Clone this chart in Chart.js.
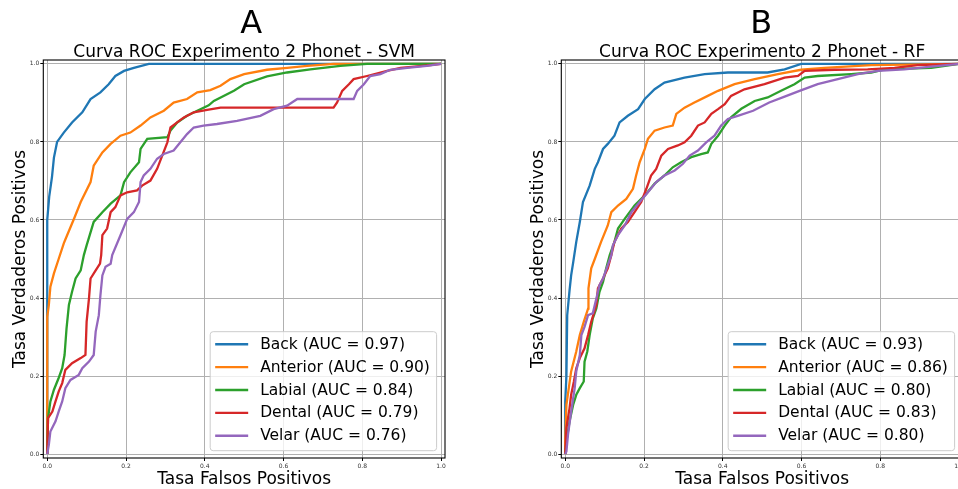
<!DOCTYPE html>
<html>
<head>
<meta charset="utf-8">
<script src="https://cdn.jsdelivr.net/npm/chart.js@4.4.1/dist/chart.umd.min.js"></script>
<style>
  html, body { margin: 0; padding: 0; background: #fff; overflow: hidden; }
  body { width: 958px; height: 489px; position: relative; }
  canvas { position: absolute; top: 0; }
  #rocSvm { left: 0; }
  #rocRf { left: 518px; }
</style>
</head>
<body>
<canvas id="rocSvm" width="480" height="489"></canvas>
<canvas id="rocRf" width="480" height="489"></canvas>
<script>
// class names, colours and AUC values
const classNames = ["Back", "Anterior", "Labial", "Dental", "Velar"];
const classColors = ["#1f77b4", "#ff7f0e", "#2ca02c", "#d62728", "#9467bd"];
const svmAuc = [0.97, 0.90, 0.84, 0.79, 0.76];
const rfAuc = [0.93, 0.86, 0.80, 0.83, 0.80];
const tickValues = [0, 0.2, 0.4, 0.6, 0.8, 1.0];

// SVM curves (false positive rate / true positive rate)
const svmBackFpr = [0, 0, 0.005, 0.012, 0.017, 0.025, 0.042, 0.063, 0.089, 0.11, 0.135, 0.156, 0.173, 0.195, 0.22, 0.258, 1.0];
const svmBackTpr = [0, 0.6, 0.66, 0.71, 0.76, 0.8, 0.824, 0.85, 0.876, 0.91, 0.927, 0.948, 0.969, 0.982, 0.99, 1.0, 1.0];
const svmAnteriorFpr = [0, 0, 0.004, 0.008, 0.017, 0.029, 0.042, 0.046, 0.068, 0.085, 0.11, 0.118, 0.14, 0.161, 0.186, 0.211, 0.237, 0.262, 0.296, 0.321, 0.355, 0.381, 0.414, 0.44, 0.465, 0.5, 0.558, 0.609, 0.66, 0.727, 1.0];
const svmAnteriorTpr = [0, 0.352, 0.382, 0.429, 0.463, 0.5, 0.54, 0.55, 0.603, 0.646, 0.697, 0.739, 0.773, 0.795, 0.816, 0.824, 0.842, 0.863, 0.88, 0.901, 0.91, 0.927, 0.933, 0.944, 0.961, 0.974, 0.985, 0.99, 0.995, 1.0, 1.0];
const svmLabialFpr = [0, 0.002, 0.008, 0.017, 0.029, 0.038, 0.044, 0.049, 0.055, 0.063, 0.072, 0.085, 0.093, 0.1, 0.118, 0.14, 0.161, 0.186, 0.195, 0.211, 0.233, 0.237, 0.254, 0.305, 0.313, 0.33, 0.355, 0.381, 0.41, 0.423, 0.474, 0.5, 0.558, 0.609, 0.668, 0.744, 0.812, 1.0];
const svmLabialTpr = [0, 0.092, 0.135, 0.165, 0.195, 0.22, 0.254, 0.322, 0.382, 0.416, 0.45, 0.471, 0.51, 0.535, 0.595, 0.62, 0.642, 0.663, 0.697, 0.722, 0.748, 0.782, 0.808, 0.812, 0.829, 0.85, 0.867, 0.88, 0.894, 0.905, 0.931, 0.948, 0.968, 0.978, 0.986, 0.995, 1.0, 1.0];
const svmDentalFpr = [0, 0.002, 0.013, 0.021, 0.029, 0.038, 0.046, 0.063, 0.085, 0.097, 0.1, 0.106, 0.11, 0.123, 0.134, 0.137, 0.14, 0.152, 0.161, 0.173, 0.186, 0.203, 0.228, 0.241, 0.262, 0.279, 0.292, 0.305, 0.313, 0.33, 0.347, 0.372, 0.406, 0.44, 0.727, 0.736, 0.749, 0.766, 0.778, 0.812, 0.863, 0.897, 0.973, 1.0];
const svmDentalTpr = [0, 0.092, 0.109, 0.135, 0.16, 0.182, 0.216, 0.233, 0.246, 0.254, 0.339, 0.399, 0.45, 0.471, 0.488, 0.51, 0.561, 0.578, 0.62, 0.633, 0.663, 0.671, 0.676, 0.688, 0.701, 0.731, 0.765, 0.799, 0.837, 0.85, 0.863, 0.876, 0.882, 0.888, 0.888, 0.901, 0.931, 0.948, 0.961, 0.969, 0.982, 0.99, 0.997, 1.0];
const svmVelarFpr = [0, 0.004, 0.008, 0.021, 0.029, 0.038, 0.046, 0.059, 0.08, 0.089, 0.106, 0.118, 0.123, 0.131, 0.135, 0.14, 0.148, 0.161, 0.165, 0.186, 0.203, 0.22, 0.233, 0.237, 0.245, 0.262, 0.279, 0.296, 0.321, 0.338, 0.355, 0.372, 0.397, 0.431, 0.482, 0.541, 0.575, 0.609, 0.635, 0.778, 0.787, 0.804, 0.82, 0.846, 0.871, 0.914, 0.964, 1.0];
const svmVelarTpr = [0, 0.024, 0.058, 0.084, 0.109, 0.135, 0.169, 0.19, 0.203, 0.22, 0.237, 0.254, 0.314, 0.356, 0.407, 0.458, 0.48, 0.488, 0.51, 0.561, 0.603, 0.62, 0.646, 0.697, 0.714, 0.731, 0.757, 0.769, 0.778, 0.799, 0.82, 0.837, 0.842, 0.846, 0.854, 0.867, 0.884, 0.893, 0.91, 0.91, 0.931, 0.948, 0.969, 0.974, 0.985, 0.99, 0.995, 1.0];

// RF curves
const rfBackFpr = [0, 0, 0.003, 0.005, 0.011, 0.015, 0.02, 0.028, 0.037, 0.045, 0.062, 0.075, 0.083, 0.096, 0.108, 0.125, 0.138, 0.159, 0.185, 0.202, 0.227, 0.252, 0.303, 0.354, 0.413, 0.514, 0.557, 0.599, 1.0];
const rfBackTpr = [0, 0.135, 0.2, 0.356, 0.42, 0.458, 0.49, 0.544, 0.595, 0.646, 0.688, 0.731, 0.748, 0.782, 0.795, 0.816, 0.85, 0.867, 0.884, 0.91, 0.935, 0.952, 0.965, 0.974, 0.978, 0.978, 0.986, 1.0, 1.0];
const rfAnteriorFpr = [0, 0, 0.003, 0.009, 0.015, 0.028, 0.037, 0.047, 0.058, 0.059, 0.066, 0.075, 0.091, 0.108, 0.117, 0.134, 0.155, 0.172, 0.18, 0.189, 0.202, 0.21, 0.227, 0.252, 0.273, 0.282, 0.303, 0.328, 0.362, 0.388, 0.43, 0.481, 0.54, 0.599, 0.658, 0.777, 1.0];
const rfAnteriorTpr = [0, 0.033, 0.126, 0.169, 0.212, 0.263, 0.305, 0.339, 0.373, 0.425, 0.476, 0.5, 0.544, 0.586, 0.62, 0.637, 0.654, 0.68, 0.714, 0.748, 0.782, 0.808, 0.829, 0.837, 0.842, 0.872, 0.888, 0.901, 0.918, 0.931, 0.948, 0.961, 0.974, 0.985, 0.99, 0.997, 1.0];
const rfLabialFpr = [0, 0.003, 0.011, 0.02, 0.028, 0.037, 0.047, 0.049, 0.056, 0.062, 0.07, 0.079, 0.087, 0.096, 0.104, 0.113, 0.125, 0.134, 0.151, 0.176, 0.202, 0.227, 0.252, 0.273, 0.294, 0.32, 0.345, 0.362, 0.371, 0.388, 0.405, 0.421, 0.447, 0.481, 0.514, 0.548, 0.582, 0.608, 0.641, 0.726, 0.777, 0.811, 0.929, 1.0];
const rfLabialTpr = [0, 0.033, 0.084, 0.126, 0.152, 0.169, 0.186, 0.237, 0.263, 0.305, 0.348, 0.373, 0.416, 0.441, 0.476, 0.51, 0.544, 0.578, 0.603, 0.637, 0.663, 0.693, 0.714, 0.735, 0.748, 0.761, 0.769, 0.773, 0.795, 0.816, 0.842, 0.863, 0.885, 0.905, 0.914, 0.931, 0.948, 0.965, 0.969, 0.974, 0.978, 0.986, 0.99, 1.0];
const rfDentalFpr = [0, 0.003, 0.011, 0.015, 0.022, 0.028, 0.037, 0.049, 0.058, 0.066, 0.079, 0.083, 0.096, 0.108, 0.117, 0.125, 0.142, 0.159, 0.176, 0.193, 0.206, 0.218, 0.231, 0.244, 0.261, 0.286, 0.303, 0.32, 0.337, 0.354, 0.371, 0.388, 0.405, 0.421, 0.455, 0.506, 0.557, 0.591, 0.608, 0.684, 0.768, 0.836, 0.895, 1.0];
const rfDentalTpr = [0, 0.067, 0.118, 0.152, 0.186, 0.22, 0.246, 0.271, 0.305, 0.339, 0.382, 0.425, 0.45, 0.476, 0.51, 0.544, 0.578, 0.595, 0.62, 0.646, 0.68, 0.714, 0.731, 0.765, 0.782, 0.791, 0.799, 0.816, 0.842, 0.85, 0.872, 0.884, 0.897, 0.918, 0.935, 0.948, 0.965, 0.969, 0.982, 0.985, 0.986, 0.99, 0.997, 1.0];
const rfVelarFpr = [0, 0.003, 0.007, 0.015, 0.024, 0.028, 0.037, 0.041, 0.049, 0.058, 0.07, 0.079, 0.087, 0.096, 0.108, 0.117, 0.121, 0.134, 0.151, 0.168, 0.189, 0.21, 0.231, 0.252, 0.278, 0.299, 0.316, 0.337, 0.358, 0.379, 0.396, 0.413, 0.438, 0.477, 0.518, 0.557, 0.595, 0.641, 0.692, 0.743, 0.794, 0.861, 0.929, 1.0];
const rfVelarTpr = [0, 0.007, 0.05, 0.109, 0.169, 0.212, 0.254, 0.305, 0.326, 0.356, 0.361, 0.399, 0.433, 0.45, 0.484, 0.51, 0.535, 0.561, 0.586, 0.62, 0.646, 0.671, 0.697, 0.714, 0.727, 0.744, 0.765, 0.778, 0.799, 0.816, 0.842, 0.859, 0.867, 0.88, 0.901, 0.916, 0.931, 0.948, 0.961, 0.974, 0.982, 0.986, 0.993, 1.0];

const FONT = "'DejaVu Sans', 'Liberation Sans', sans-serif";

function toPoints(fpr, tpr) {
  const n = Math.min(fpr.length, tpr.length);
  const out = [];
  for (let i = 0; i < n; i++) out.push({ x: fpr[i], y: tpr[i] });
  return out;
}

// spines, titles, axis labels and the legend inside the plot
const decorations = {
  id: "decorations",
  afterDraw(chart, args, opts) {
    const ctx = chart.ctx;
    const a = chart.chartArea;
    const cx = (a.left + a.right) / 2;
    ctx.save();

    // frame around the axes
    ctx.strokeStyle = "#000";
    ctx.lineWidth = 1.1;
    ctx.strokeRect(a.left, a.top, a.right - a.left, a.bottom - a.top);

    ctx.fillStyle = "#000";
    ctx.textBaseline = "alphabetic";
    ctx.textAlign = "center";
    ctx.font = "32px " + FONT;
    ctx.fillText(opts.letter, opts.letterX, 33.3);
    ctx.font = "17px " + FONT;
    ctx.fillText(opts.title, cx, 56.7);
    ctx.fillText("Tasa Falsos Positivos", cx, 483.5);

    ctx.save();
    ctx.translate(24.5, (a.top + a.bottom) / 2);
    ctx.rotate(-Math.PI / 2);
    ctx.fillText("Tasa Verdaderos Positivos", 0, 0);
    ctx.restore();

    // legend box (lower right)
    ctx.font = "15.5px " + FONT;
    const labels = chart.data.datasets.map((d) => d.label);
    const maxW = Math.max(...labels.map((t) => ctx.measureText(t).width));
    const boxW = 5 + 33 + 12 + maxW + 6.7;
    const boxH = 119;
    const right = a.right - 8.4;
    const bottom = a.bottom - 7.3;
    const left = right - boxW;
    const top = bottom - boxH;
    ctx.beginPath();
    ctx.roundRect(left, top, boxW, boxH, 3);
    ctx.fillStyle = "rgba(255,255,255,0.8)";
    ctx.fill();
    ctx.strokeStyle = "#cccccc";
    ctx.lineWidth = 1;
    ctx.stroke();

    ctx.textAlign = "left";
    ctx.textBaseline = "middle";
    chart.data.datasets.forEach((d, i) => {
      const y = top + 12.6 + i * 22.85;
      ctx.strokeStyle = d.borderColor;
      ctx.lineWidth = 2.4;
      ctx.beginPath();
      ctx.moveTo(left + 5, y);
      ctx.lineTo(left + 38, y);
      ctx.stroke();
      ctx.fillStyle = "#000";
      ctx.fillText(d.label, left + 50, y + 0.5);
    });
    ctx.restore();
  },
};

function axisOptions(isX) {
  return {
    type: "linear",
    min: -0.01,
    max: 1.01,
    afterBuildTicks: (axis) => {
      axis.ticks = tickValues.map((v) => ({ value: v }));
    },
    afterFit: (axis) => {
      if (isX) axis.height = 31;
      else axis.width = 43.3;
    },
    border: { display: false },
    grid: {
      color: "#b0b0b0",
      lineWidth: 1,
      tickColor: "#000",
      tickLength: 3,
    },
    ticks: {
      padding: isX ? 2 : 1,
      color: "#333",
      font: { family: FONT, size: 6 },
      maxRotation: 0,
      callback: (v) => v.toFixed(1),
    },
  };
}

function makeRoc(canvasId, letter, letterX, title, fprs, tprs, aucs) {
  const datasets = classNames.map((name, i) => ({
    label: `${name} (AUC = ${aucs[i].toFixed(2)})`,
    data: toPoints(fprs[i], tprs[i]),
    borderColor: classColors[i],
    backgroundColor: classColors[i],
    borderWidth: 2.3,
    pointRadius: 0,
    tension: 0,
    fill: false,
    order: classNames.length - i,
  }));

  new Chart(document.getElementById(canvasId), {
    type: "line",
    data: { datasets: datasets },
    options: {
      responsive: false,
      animation: false,
      parsing: false,
      layout: { autoPadding: false, padding: { top: 60, right: 35, left: 0, bottom: 0 } },
      plugins: {
        legend: { display: false },
        tooltip: { enabled: false },
        decorations: { letter: letter, letterX: letterX, title: title },
      },
      scales: {
        x: axisOptions(true),
        y: axisOptions(false),
      },
    },
    plugins: [decorations],
  });
}

makeRoc(
  "rocSvm", "A", 251.3, "Curva ROC Experimento 2 Phonet - SVM",
  [svmBackFpr, svmAnteriorFpr, svmLabialFpr, svmDentalFpr, svmVelarFpr],
  [svmBackTpr, svmAnteriorTpr, svmLabialTpr, svmDentalTpr, svmVelarTpr],
  svmAuc
);
makeRoc(
  "rocRf", "B", 243.3, "Curva ROC Experimento 2 Phonet - RF",
  [rfBackFpr, rfAnteriorFpr, rfLabialFpr, rfDentalFpr, rfVelarFpr],
  [rfBackTpr, rfAnteriorTpr, rfLabialTpr, rfDentalTpr, rfVelarTpr],
  rfAuc
);
</script>
</body>
</html>
